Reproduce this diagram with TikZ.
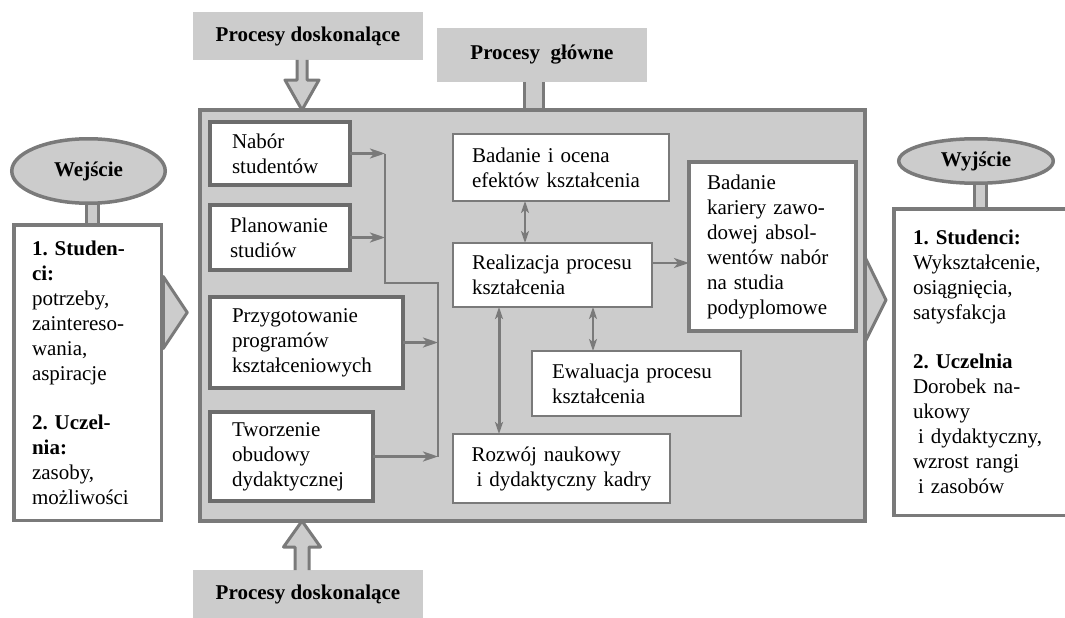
\documentclass[tikz,border=0pt]{standalone}
\usepackage{fontspec}
\setmainfont{Liberation Serif}
\usepackage{tikz}
\usetikzlibrary{arrows.meta, shapes, calc, backgrounds}
\definecolor{edgegray}{RGB}{122,122,122}
\definecolor{edgedark}{RGB}{108,108,108}
\definecolor{dots}{RGB}{204,204,204}
\hyphenpenalty=10000
\frenchspacing

\begin{document}
\begin{tikzpicture}[x=1pt, y=-1pt,
every node/.style={font=\fontsize{21}{25}\selectfont, inner sep=0pt, outer sep=0pt},
%
container/.style={rectangle, draw=edgegray, line width=4pt, fill=dots},
%
procbox/.style={rectangle, fill=dots, font=\fontsize{21}{25}\selectfont\bfseries},
%
endpoint/.style={ellipse, draw=edgegray, line width=3.5pt, fill=dots,
  font=\fontsize{21}{25}\selectfont\bfseries},
%
sidebox/.style={rectangle, draw=edgegray, line width=3.5pt, fill=white, align=left},
%
stage/.style={rectangle, draw=edgedark, line width=4pt, fill=white, align=left},
%
task/.style={rectangle, draw=edgegray, line width=2.5pt, fill=white, align=left},
%
shaft/.style={fill=dots, draw=edgegray, line width=3pt, line join=round},
%
bus/.style={draw=edgegray, line width=2.5pt},
%
flow/.style={draw=edgegray, line width=2.5pt, -{Stealth[length=15pt, width=10pt, inset=4pt]}},
%
link/.style={draw=edgegray, line width=2pt,
  {Stealth[length=12pt, width=8pt, inset=3pt]}-{Stealth[length=12pt, width=8pt, inset=3pt]}}]

\useasboundingbox (0,0) rectangle (1065,618);

\begin{scope}
  \node [container, minimum width=665pt, minimum height=411pt] (main) at (532.5,315.5) {};
  \node [procbox, minimum width=230pt, minimum height=48pt] (pdTop) at (308,36) {Procesy doskonalące};
  \node [procbox, minimum width=210pt, minimum height=54pt] (pGl) at (542,55) {Procesy~ główne};
  \node [procbox, minimum width=230pt, minimum height=48pt] (pdBot) at (308,594) {Procesy doskonalące};
  %%%%%%%%%%%%%%%%%%%%%%%%%%%%%%
  \node [endpoint, minimum width=153.5pt, minimum height=64.5pt] (wej) at (88.5,171) {Wejście};
  \node [sidebox, minimum width=147.5pt, minimum height=295.5pt, text width=111pt] (input) at (87.5,372.5)
    {\textbf{1. Studen-}\\ \textbf{ci:}\\ potrzeby,\\ zaintereso-\\ wania,\\ aspiracje\\[24pt]
     \textbf{2. Uczel-}\\ \textbf{nia:}\\ zasoby,\\ możliwości};
  \node [endpoint, minimum width=154.5pt, minimum height=44.5pt] (wyj) at (976,161) {Wyjście};
  \node [sidebox, minimum width=172.5pt, minimum height=306.5pt, text width=134pt] (output) at (980,362)
    {\textbf{1. Studenci:}\\ Wykształcenie,\\ osiągnięcia,\\ satysfakcja\\[24pt]
     \textbf{2. Uczelnia}\\ Dorobek na-\\ ukowy\\ \hspace*{5pt}i dydaktyczny,\\ wzrost rangi\\ \hspace*{5pt}i zasobów};
  %%%%%%%%%%%%%%%%%%%%%%%%%%%%%%
  \node [stage, minimum width=140pt, minimum height=63pt, text width=96pt] (nabor) at (280,153.5)
    {Nabór\\ studentów};
  \node [stage, minimum width=140pt, minimum height=65pt, text width=100pt] (plan) at (280,237.5)
    {Planowanie\\ studiów};
  \node [stage, minimum width=193pt, minimum height=91pt, text width=149pt] (przyg) at (306.5,342.5)
    {Przygotowanie\\ programów\\ kształceniowych};
  \node [stage, minimum width=163pt, minimum height=89pt, text width=119pt] (tworz) at (291.5,456.5)
    {Tworzenie\\ obudowy\\ dydaktycznej};
  %%%%%%%%%%%%%%%%%%%%%%%%%%%%%%
  \node [task, minimum width=216pt, minimum height=67pt, text width=178pt] (bad) at (561,167.5)
    {Badanie i ocena\\ efektów kształcenia};
  \node [task, minimum width=199pt, minimum height=64pt, text width=161pt] (real) at (552.5,275)
    {Realizacja procesu\\ kształcenia};
  \node [task, minimum width=209pt, minimum height=65pt, text width=169pt] (ewal) at (636.5,383.5)
    {Ewaluacja procesu\\ kształcenia};
  \node [task, minimum width=217pt, minimum height=69pt, text width=180pt] (rozw) at (561.5,468.5)
    {Rozwój naukowy\\ \hspace*{5pt}i dydaktyczny kadry};
  \node [stage, draw=edgegray, minimum width=167pt, minimum height=169pt, text width=131pt] (kariera) at (772.5,246.5)
    {Badanie\\ kariery zawo-\\ dowej absol-\\ wentów nabór\\ na studia\\ podyplomowe};
\end{scope}

\begin{scope}[on background layer]
  \draw [shaft] ($(wej.south)+(-2,-3)$) rectangle ($(wej.south |- input.north)+(10,3)$);
  \draw [shaft] ($(wyj.south -| output.north)+(-5.5,-3)$) rectangle ($(output.north)+(6.5,3)$);
  \draw [shaft] ($(pGl.south)+(-17.5,-3)$) rectangle ($(pGl.south |- main.north)+(1.5,3)$);
  %%%%%%%%%%%%%%%%%%%%%%%%%%%%%%
  \coordinate (inArrow) at ($(input.east)+(2,-60)$);
  \draw [shaft] ($(inArrow)+(0,-36)$) -- ($(inArrow)+(24,0)$) -- ($(inArrow)+(0,36)$) -- cycle;
  \coordinate (outArrow) at ($(main.east)+(-2,-15.5)$);
  \draw [shaft] ($(outArrow)+(0,-47)$) -- ($(outArrow)+(23,0)$) -- ($(outArrow)+(0,46)$) -- cycle;
\end{scope}

\begin{scope}
  \coordinate (topTip) at ($(pdTop.south)+(-6,50)$);
  \draw [shaft] ($(topTip)+(-5,-50)$) -- ($(topTip)+(-5,-30)$) -- ($(topTip)+(-17,-30)$) -- (topTip)
    -- ($(topTip)+(17,-30)$) -- ($(topTip)+(5,-30)$) -- ($(topTip)+(5,-50)$);
  \coordinate (botTip) at ($(pdBot.north)+(-6,-49)$);
  \draw [shaft] ($(botTip)+(-7,49)$) -- ($(botTip)+(-7,26)$) -- ($(botTip)+(-18.5,26)$) -- (botTip)
    -- ($(botTip)+(18.5,26)$) -- ($(botTip)+(7,26)$) -- ($(botTip)+(7,49)$);
  %%%%%%%%%%%%%%%%%%%%%%%%%%%%%%
  \coordinate (busTop) at ($(nabor.east)+(35,0)$);
  \coordinate (busKnee) at ($(busTop)+(0,129.5)$);
  \coordinate (busJoin) at ($(busKnee)+(53,0)$);
  \draw [bus] (busTop) -- (busKnee) -- (busJoin) -- (tworz.east -| busJoin);
  \draw [flow] (nabor.east) -- (busTop);
  \draw [flow] (plan.east) -- (plan.east -| busTop);
  \draw [flow] (przyg.east) -- (przyg.east -| busJoin);
  \draw [flow] (tworz.east) -- (tworz.east -| busJoin);
  %%%%%%%%%%%%%%%%%%%%%%%%%%%%%%
  \draw [flow] ([yshift=12pt]real.east) -- ([yshift=-16.5pt]kariera.west);
  \draw [link] ([xshift=-36pt]bad.south) -- ([xshift=-27.5pt]real.north);
  \draw [link] ([xshift=40.5pt]real.south) -- ([xshift=-43.5pt]ewal.north);
  \draw [link, line width=3pt] ([xshift=-53.5pt]real.south) -- ([xshift=-62.5pt]rozw.north);
\end{scope}

\end{tikzpicture}
\end{document}
